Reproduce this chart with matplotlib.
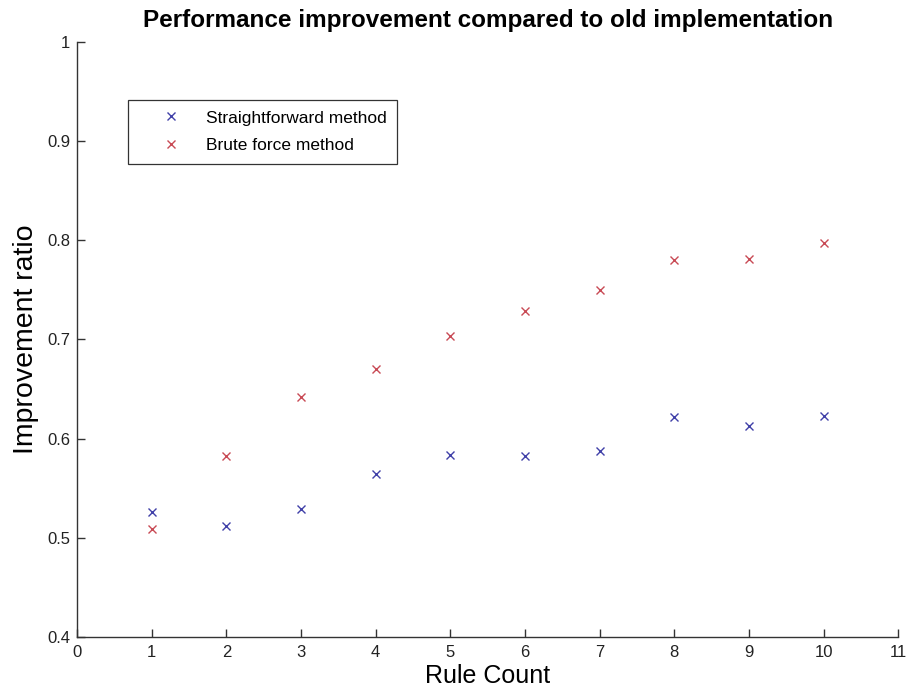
import matplotlib
matplotlib.use("Agg")
import matplotlib.pyplot as plt

rule_count = [1, 2, 3, 4, 5, 6, 7, 8, 9, 10]
straightforward = [0.526, 0.512, 0.529, 0.564, 0.584, 0.582, 0.588, 0.622, 0.613, 0.623]
brute_force = [0.509, 0.582, 0.642, 0.670, 0.704, 0.729, 0.750, 0.780, 0.781, 0.797]
x_ticks = list(range(0, 12))
y_ticks = [0.4, 0.5, 0.6, 0.7, 0.8, 0.9, 1.0]
y_tick_labels = ["0.4", "0.5", "0.6", "0.7", "0.8", "0.9", "1"]

plt.rcParams['font.family'] = ['Liberation Sans', 'DejaVu Sans']

fig = plt.figure(figsize=(9.07, 6.95), dpi=100)
ax = fig.add_axes([0.0849, 0.0835, 0.9055, 0.8561])

ax.plot(rule_count, straightforward, 'x', color='#4040a8', markersize=5.5, markeredgewidth=1.0,
        label='Straightforward method')
ax.plot(rule_count, brute_force, 'x', color='#c84a55', markersize=5.5, markeredgewidth=1.0,
        label='Brute force method')

ax.set_xlim(0, 11)
ax.set_ylim(0.4, 1.0)
ax.set_xticks(x_ticks)
ax.set_yticks(y_ticks)
ax.set_yticklabels(y_tick_labels)

for s in ['top', 'right']:
    ax.spines[s].set_visible(False)
for s in ['left', 'bottom']:
    ax.spines[s].set_color('#333333')
    ax.spines[s].set_linewidth(1.0)
ax.tick_params(direction='in', length=6, width=1, color='#333333', labelsize=12,
               labelcolor='#222222')
ax.tick_params(axis='x', pad=6)
ax.tick_params(axis='y', pad=5)

ax.set_title('Performance improvement compared to old implementation', fontsize=17.5,
             fontweight='bold', pad=11)
ax.set_xlabel('Rule Count', fontsize=18, labelpad=3)
ax.set_ylabel('Improvement ratio', fontsize=20.5, labelpad=6)

leg = ax.legend(loc='upper left', bbox_to_anchor=(0.0621, 0.9025), fontsize=12.5,
                frameon=True, fancybox=False, edgecolor='black', borderpad=0.6,
                handletextpad=0.2, handlelength=3.7, labelspacing=0.72, borderaxespad=0)
leg.get_frame().set_linewidth(0.9)

fig.savefig('out.png', dpi=100)
